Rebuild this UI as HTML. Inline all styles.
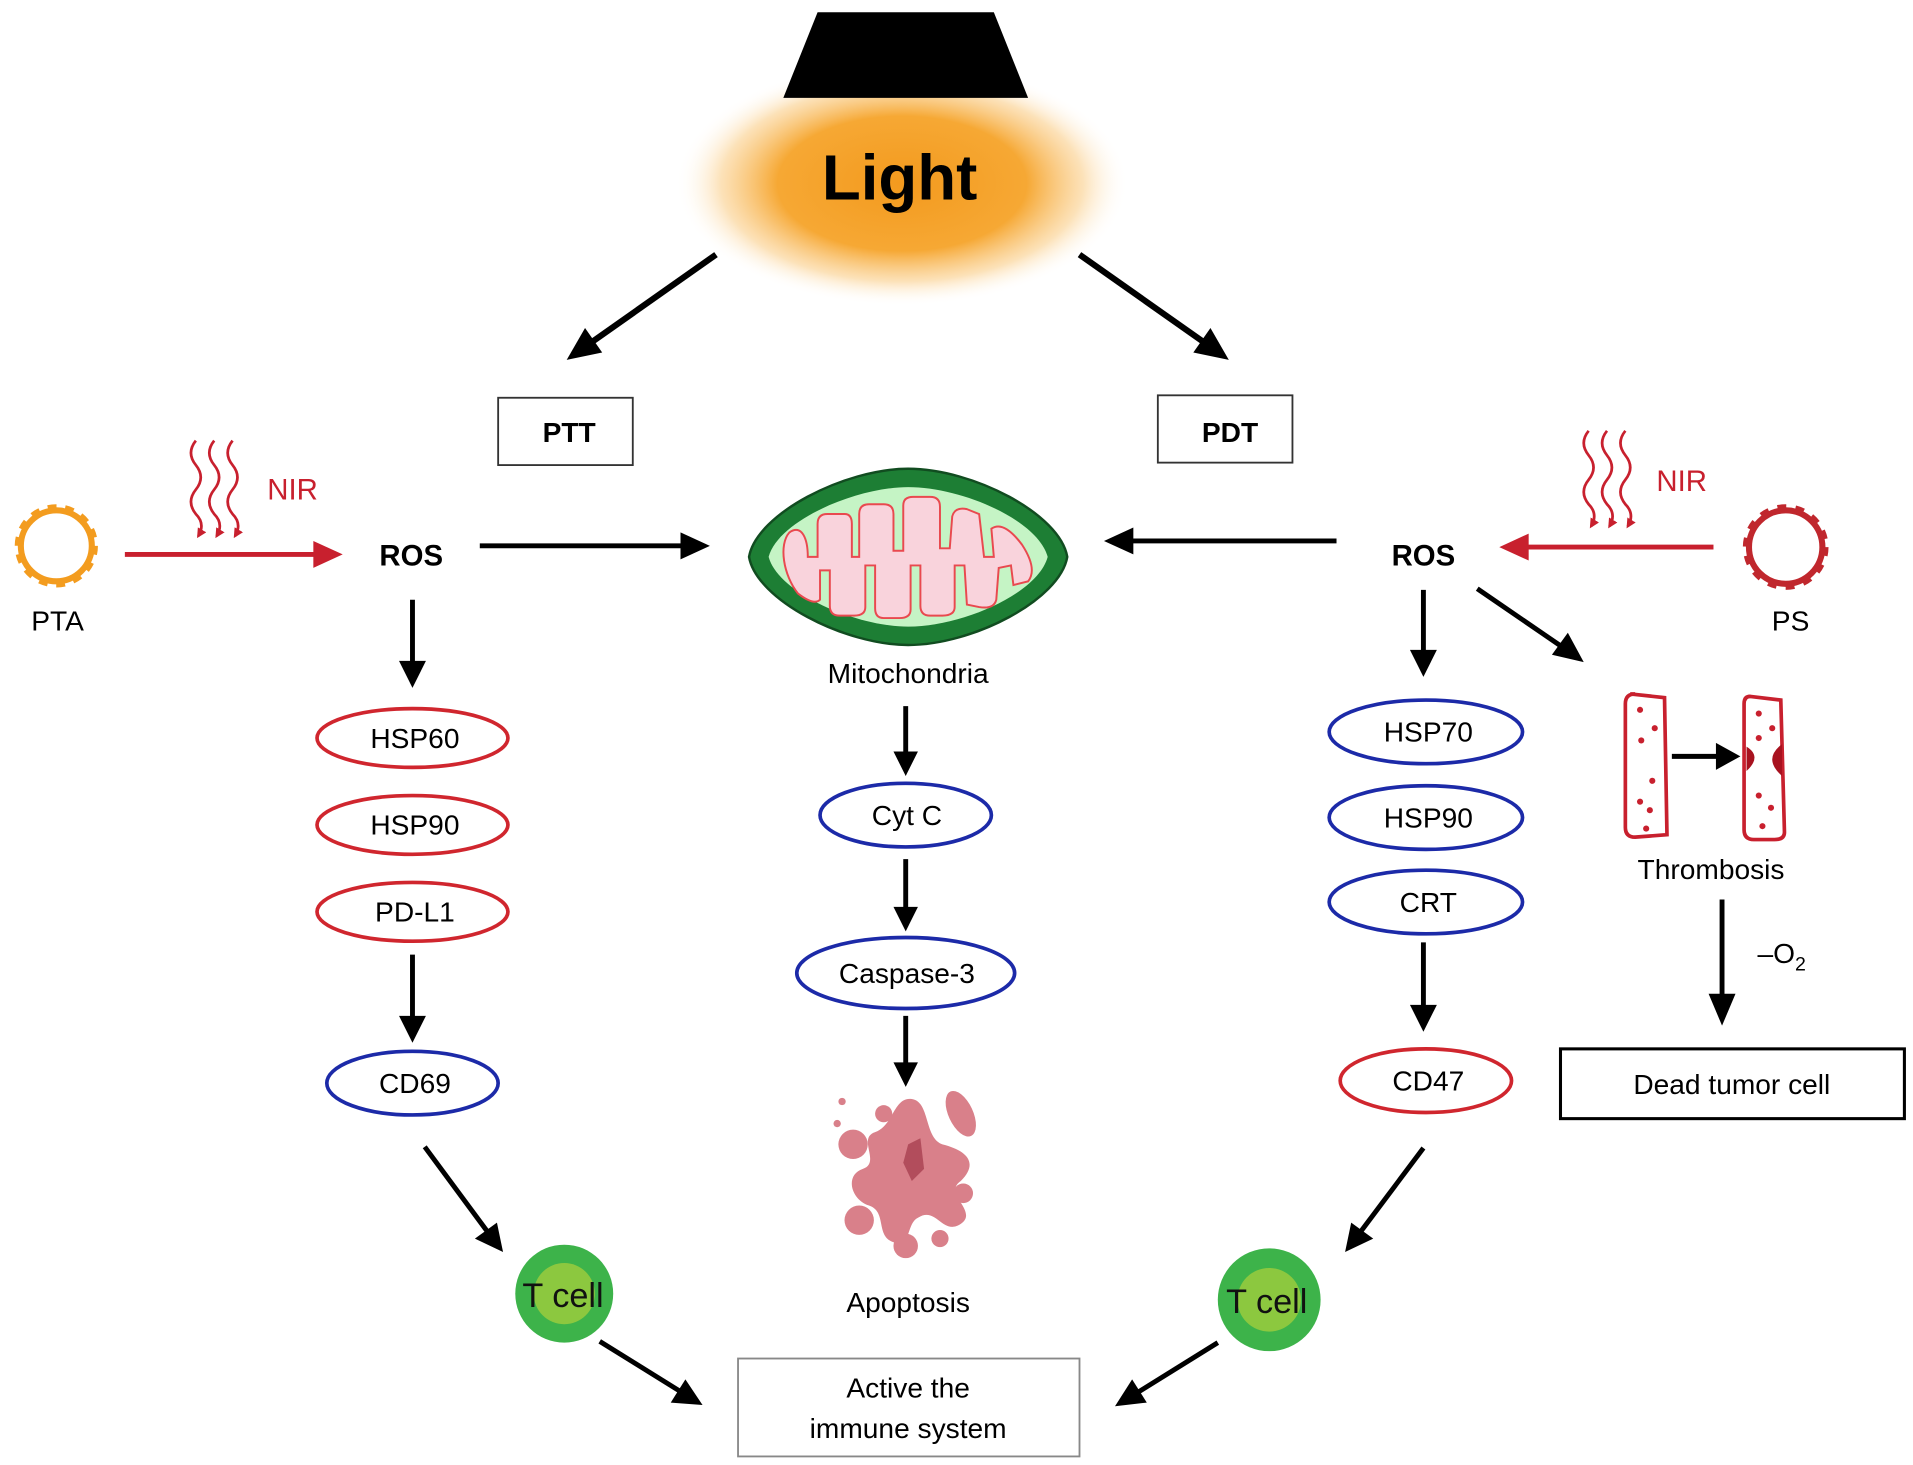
<!DOCTYPE html>
<html><head><meta charset="utf-8"><style>
html,body{margin:0;padding:0;background:#fff;}
svg{display:block;}
text{font-family:"Liberation Sans",Arial,sans-serif;}
</style></head><body>
<svg width="1913" height="1465" viewBox="0 0 1563 1197" xmlns="http://www.w3.org/2000/svg">
<defs>
<radialGradient id="glow" cx="50%" cy="50%" r="50%">
<stop offset="0" stop-color="#f39a1e"/>
<stop offset="0.55" stop-color="#f6a834"/>
<stop offset="0.8" stop-color="#fbd59a" stop-opacity="0.7"/>
<stop offset="1" stop-color="#fff" stop-opacity="0"/>
</radialGradient>
<marker id="wv" markerWidth="8" markerHeight="8" refX="6" refY="4" orient="auto" markerUnits="userSpaceOnUse"><path d="M0,0 L8,4 L0,8 z" fill="#c8202e"/></marker>
</defs>

<ellipse cx="737" cy="150" rx="185" ry="100" fill="url(#glow)"/>
<polygon points="668,10 812,10 840,80 640,80" fill="#000"/>
<text x="735" y="163" font-size="52" font-weight="bold" text-anchor="middle">Light</text>

<g stroke="#000" stroke-width="5" fill="none">
<line x1="585" y1="208" x2="480" y2="282"/>
<line x1="882" y1="208" x2="987" y2="282"/>
</g>
<polygon points="463,294 478,268 492,288" fill="#000"/>
<polygon points="1004,294 975,288 989,268" fill="#000"/>

<rect x="407" y="325" width="110" height="55" fill="#fff" stroke="#333" stroke-width="1.5"/>
<text x="465" y="361" font-size="23" font-weight="bold" text-anchor="middle">PTT</text>
<rect x="946" y="323" width="110" height="55" fill="#fff" stroke="#333" stroke-width="1.5"/>
<text x="1005" y="361" font-size="23" font-weight="bold" text-anchor="middle">PDT</text>

<circle cx="46" cy="446" r="29" fill="none" stroke="#f39c1f" stroke-width="5"/>
<circle cx="46" cy="446" r="31" fill="none" stroke="#f39c1f" stroke-width="6" stroke-dasharray="7 6.9"/>
<text x="47" y="515" font-size="23" text-anchor="middle">PTA</text>
<g stroke="#c8202e" stroke-width="2.2" fill="none">
<path d="M160,360 q-8,10 0,20 q8,10 0,20 q-8,10 0,20 q8,8 2,18" marker-end="url(#wv)"/>
<path d="M175,360 q-8,10 0,20 q8,10 0,20 q-8,10 0,20 q8,8 2,18" marker-end="url(#wv)"/>
<path d="M190,360 q-8,10 0,20 q8,10 0,20 q-8,10 0,20 q8,8 2,18" marker-end="url(#wv)"/>
</g>
<text x="239" y="408" font-size="24" fill="#c8202e" text-anchor="middle">NIR</text>
<line x1="102" y1="453" x2="262" y2="453" stroke="#c8202e" stroke-width="4"/>
<polygon points="280,453 256,442 256,464" fill="#c8202e"/>
<text x="336" y="462" font-size="24" font-weight="bold" text-anchor="middle">ROS</text>
<line x1="392" y1="446" x2="560" y2="446" stroke="#000" stroke-width="4"/>
<polygon points="580,446 556,435 556,457" fill="#000"/>

<!-- Mitochondria -->
<path d="M612,455 C618,420 690,383 742,383 C795,383 866,420 872,455 C866,490 795,527 742,527 C690,527 618,490 612,455 Z" fill="#1d7e34" stroke="#114c20" stroke-width="2"/>
<path d="M628,455 C636,425 700,398 742,398 C786,398 848,425 856,455 C848,485 786,512 742,512 C700,512 636,485 628,455 Z" fill="#c5f4c5"/>
<path d="M652,485 C640,470 636,445 645,435 C655,428 660,440 660,455 L668,455 L668,428 Q668,420 676,420 L690,420 Q696,420 696,428 L696,455 L702,455 L702,420 Q702,412 710,412 L722,412 Q730,412 730,420 L730,450 L738,450 L738,413 Q738,406 746,406 L760,406 Q768,406 768,414 L768,448 L776,448 L778,422 Q780,414 790,416 L800,420 L804,455 L812,455 L810,432 Q820,425 835,445 Q848,465 840,475 L828,478 L826,462 L816,464 L814,490 Q812,498 800,496 L790,494 L788,462 L780,462 L780,496 Q780,503 770,503 L760,503 Q752,503 752,495 L752,462 L744,462 L744,498 Q744,505 735,505 L722,505 Q715,505 715,497 L715,462 L707,462 L707,496 Q707,503 698,503 L686,503 Q678,503 678,495 L678,466 L670,466 L670,490 Q665,495 652,485 Z" fill="#f9d3dc" stroke="#e9494f" stroke-width="1.6"/>
<text x="742" y="558" font-size="23" text-anchor="middle">Mitochondria</text>

<line x1="1092" y1="442" x2="922" y2="442" stroke="#000" stroke-width="4"/>
<polygon points="902,442 926,431 926,453" fill="#000"/>
<text x="1163" y="462" font-size="24" font-weight="bold" text-anchor="middle">ROS</text>
<line x1="1400" y1="447" x2="1245" y2="447" stroke="#c8202e" stroke-width="4"/>
<polygon points="1225,447 1249,436 1249,458" fill="#c8202e"/>
<g stroke="#c8202e" stroke-width="2.2" fill="none">
<path d="M1298,352 q-8,10 0,20 q8,10 0,20 q-8,10 0,20 q8,8 2,18" marker-end="url(#wv)"/>
<path d="M1313,352 q-8,10 0,20 q8,10 0,20 q-8,10 0,20 q8,8 2,18" marker-end="url(#wv)"/>
<path d="M1328,352 q-8,10 0,20 q8,10 0,20 q-8,10 0,20 q8,8 2,18" marker-end="url(#wv)"/>
</g>
<text x="1374" y="401" font-size="24" fill="#c8202e" text-anchor="middle">NIR</text>
<circle cx="1459" cy="447" r="30" fill="none" stroke="#c0272d" stroke-width="5"/>
<circle cx="1459" cy="447" r="32" fill="none" stroke="#c0272d" stroke-width="6" stroke-dasharray="7 7.4"/>
<text x="1463" y="515" font-size="23" text-anchor="middle">PS</text>

<g stroke="#000" stroke-width="4">
<line x1="337" y1="490" x2="337" y2="542"/>
<line x1="337" y1="780" x2="337" y2="832"/>
<line x1="740" y1="577" x2="740" y2="616"/>
<line x1="740" y1="702" x2="740" y2="743"/>
<line x1="740" y1="830" x2="740" y2="870"/>
<line x1="1163" y1="482" x2="1163" y2="534"/>
<line x1="1163" y1="770" x2="1163" y2="824"/>
<line x1="1407" y1="735" x2="1407" y2="815"/>
<line x1="347" y1="937" x2="398" y2="1006"/>
<line x1="490" y1="1096" x2="556" y2="1137"/>
<line x1="1163" y1="938" x2="1112" y2="1006"/>
<line x1="995" y1="1097" x2="929" y2="1138"/>
<line x1="1207" y1="481" x2="1277" y2="529"/>
<line x1="1366" y1="618" x2="1405" y2="618"/>
</g>
<g fill="#000">
<polygon points="337,562 326,540 348,540"/>
<polygon points="337,852 326,830 348,830"/>
<polygon points="740,634 730,614 750,614"/>
<polygon points="740,761 730,741 750,741"/>
<polygon points="740,888 730,868 750,868"/>
<polygon points="1163,553 1152,531 1174,531"/>
<polygon points="1163,843 1152,821 1174,821"/>
<polygon points="1407,838 1396,812 1418,812"/>
<polygon points="411,1023 388,1012 406,999"/>
<polygon points="574,1148 548,1146 560,1127"/>
<polygon points="1099,1023 1104,999 1122,1012"/>
<polygon points="911,1149 925,1127 937,1146"/>
<polygon points="1294,541 1268,535 1281,517"/>
<polygon points="1422,618 1402,607 1402,629"/>
</g>

<g fill="#fff" stroke-width="3">
<ellipse cx="337" cy="603" rx="78" ry="24" stroke="#d0262e"/>
<ellipse cx="337" cy="674" rx="78" ry="24" stroke="#d0262e"/>
<ellipse cx="337" cy="745" rx="78" ry="24" stroke="#d0262e"/>
<ellipse cx="337" cy="885" rx="70" ry="26" stroke="#1c2aa8"/>
<ellipse cx="740" cy="666" rx="70" ry="26" stroke="#1c2aa8"/>
<ellipse cx="740" cy="795" rx="89" ry="29" stroke="#1c2aa8"/>
<ellipse cx="1165" cy="598" rx="79" ry="26" stroke="#1c2aa8"/>
<ellipse cx="1165" cy="668" rx="79" ry="26" stroke="#1c2aa8"/>
<ellipse cx="1165" cy="737" rx="79" ry="26" stroke="#1c2aa8"/>
<ellipse cx="1165" cy="883" rx="70" ry="26" stroke="#d0262e"/>
</g>
<g font-size="23" text-anchor="middle">
<text x="339" y="611">HSP60</text>
<text x="339" y="682">HSP90</text>
<text x="339" y="753">PD-L1</text>
<text x="339" y="893">CD69</text>
<text x="741" y="674">Cyt C</text>
<text x="741" y="803">Caspase-3</text>
<text x="1167" y="606">HSP70</text>
<text x="1167" y="676">HSP90</text>
<text x="1167" y="745">CRT</text>
<text x="1167" y="891">CD47</text>
</g>

<g fill="#d9808a">
<path d="M745,898 C760,900 755,930 770,935 C790,940 800,950 785,965 C770,975 800,990 785,1000 C770,1010 765,985 750,995 C740,1000 745,1020 730,1015 C715,1010 725,990 710,985 C695,980 690,960 705,955 C720,950 700,930 715,925 C730,920 730,896 745,898 Z"/>
<ellipse cx="785" cy="910" rx="10" ry="20" transform="rotate(-25 785 910)"/><circle cx="697" cy="935" r="12"/><circle cx="702" cy="997" r="12"/>
<circle cx="740" cy="1018" r="10"/><circle cx="768" cy="1012" r="7"/><circle cx="787" cy="975" r="8"/>
<circle cx="722" cy="910" r="7"/><circle cx="688" cy="900" r="3"/><circle cx="684" cy="918" r="3"/>
</g>
<path d="M742,935 L752,930 L755,955 L745,965 L738,950 Z" fill="#b24d5c"/>
<text x="742" y="1072" font-size="23" text-anchor="middle">Apoptosis</text>

<circle cx="461" cy="1057" r="40" fill="#3db34a"/><circle cx="461" cy="1057" r="25" fill="#8cc83f"/>
<text x="460" y="1068" font-size="28" text-anchor="middle" fill="#111">T cell</text>
<circle cx="1037" cy="1062" r="42" fill="#3db34a"/><circle cx="1037" cy="1062" r="26" fill="#8cc83f"/>
<text x="1035" y="1073" font-size="28" text-anchor="middle" fill="#111">T cell</text>

<rect x="603" y="1110" width="279" height="80" fill="#fff" stroke="#888" stroke-width="1.5"/>
<text x="742" y="1142" font-size="23" text-anchor="middle">Active the</text>
<text x="742" y="1175" font-size="23" text-anchor="middle">immune system</text>

<g fill="none" stroke="#c8202e" stroke-width="3">
<path d="M1332,567 L1360,570 L1362,682 L1336,684 Q1328,684 1328,676 L1328,575 Q1328,567 1336,567 Z"/>
<path d="M1430,569 L1455,572 L1458,680 Q1458,686 1450,686 L1433,686 Q1425,686 1425,678 L1425,575 Q1425,569 1430,569 Z"/>
</g>
<g fill="#c8202e">
<circle cx="1340" cy="580" r="2.5"/><circle cx="1352" cy="595" r="2.5"/><circle cx="1341" cy="605" r="2.5"/>
<circle cx="1350" cy="638" r="2.5"/><circle cx="1340" cy="655" r="2.5"/><circle cx="1348" cy="662" r="2.5"/><circle cx="1345" cy="677" r="2.5"/>
<circle cx="1437" cy="583" r="2.5"/><circle cx="1448" cy="595" r="2.5"/><circle cx="1437" cy="603" r="2.5"/>
<circle cx="1437" cy="650" r="2.5"/><circle cx="1447" cy="660" r="2.5"/><circle cx="1440" cy="675" r="2.5"/>
</g>
<g fill="#a8121f">
<path d="M1427,610 Q1440,618 1427,630 Z"/><path d="M1456,608 Q1440,620 1456,634 Z"/>
</g>
<text x="1398" y="718" font-size="23" text-anchor="middle">Thrombosis</text>
<text x="1436" y="787" font-size="23">–O<tspan font-size="16" dy="6">2</tspan></text>
<rect x="1275" y="857" width="281" height="57" fill="#fff" stroke="#000" stroke-width="2.5"/>
<text x="1415" y="894" font-size="23" text-anchor="middle">Dead tumor cell</text>
</svg>
</body></html>
